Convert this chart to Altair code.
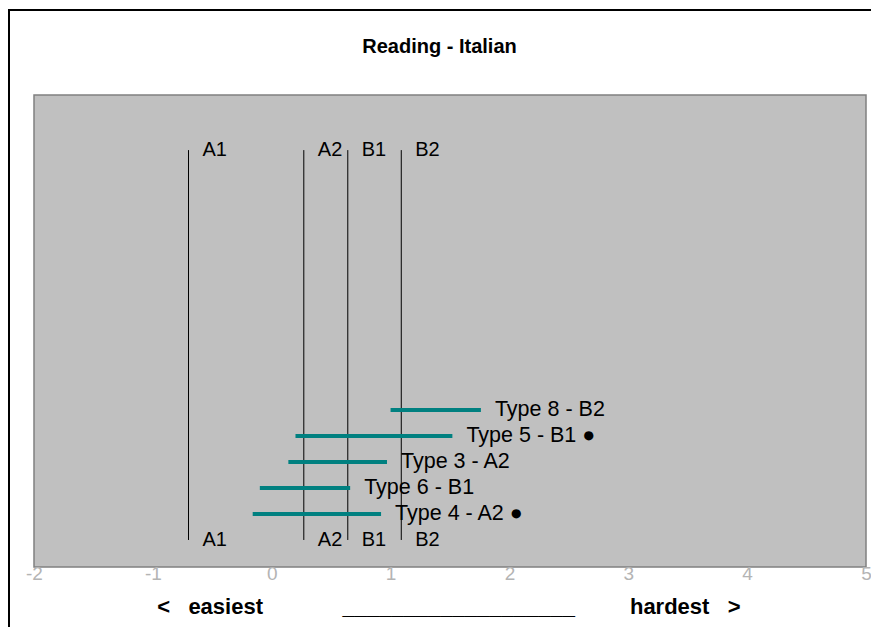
import altair as alt
import pandas as pd

# ---- data ----
levels = ["A1", "A2", "B1", "B2"]
level_pos = [-0.70, 0.27, 0.64, 1.09]
level_low = 0
level_high = 15

type_labels = ["Type 4 - A2 \u25CF", "Type 6 - B1", "Type 3 - A2", "Type 5 - B1 \u25CF", "Type 8 - B2"]
type_start = [-0.16, -0.10, 0.14, 0.20, 1.00]
type_end = [0.92, 0.66, 0.97, 1.52, 1.76]
type_row = [1, 2, 3, 4, 5]

x_ticks = [-2, -1, 0, 1, 2, 3, 4, 5]
title_text = "Reading - Italian"
NB = "\u00a0"
bottom_text = "<" + NB * 3 + "easiest" + NB * 13 + "_" * 19 + NB * 9 + "hardest" + NB * 3 + ">"

FONT = "Liberation Sans"
W, H = 832, 472

levels_df = pd.DataFrame({"level": levels, "pos": level_pos,
                          "lo": [level_low] * len(levels), "hi": [level_high] * len(levels)})
types_df = pd.DataFrame({"label": type_labels, "start": type_start, "end": type_end, "row": type_row})
one = pd.DataFrame({"k": [0]})

xscale = alt.Scale(domain=[-2, 5], nice=False, zero=False)
yscale = alt.Scale(domain=[-1.04, 17.12], nice=False, zero=False)
xaxis = alt.Axis(values=x_ticks, labelExpr="'' + datum.value", title=None, domain=False,
                 ticks=False, grid=False, labelFontSize=19, labelColor="#b4b4b4", labelFont=FONT,
                 labelFlush=False, labelPadding=-3)

lines = alt.Chart(levels_df).mark_rule(color="black", strokeWidth=1).encode(
    x=alt.X("pos:Q", scale=xscale, axis=xaxis),
    y=alt.Y("lo:Q", scale=yscale, axis=None),
    y2="hi:Q",
)
top_labels = alt.Chart(levels_df).mark_text(align="left", baseline="middle", dx=14,
                                            fontSize=20, font=FONT, color="black").encode(
    x="pos:Q", y="hi:Q", text="level:N")
bottom_labels = alt.Chart(levels_df).mark_text(align="left", baseline="middle", dx=14,
                                               fontSize=20, font=FONT, color="black").encode(
    x="pos:Q", y="lo:Q", text="level:N")

bars = alt.Chart(types_df).mark_rule(color="#008080", strokeWidth=4).encode(
    x="start:Q", x2="end:Q", y="row:Q")
bar_labels = alt.Chart(types_df).mark_text(align="left", baseline="middle", dx=14,
                                           fontSize=21.5, font=FONT, color="black").encode(
    x="end:Q", y="row:Q", text="label:N")

title = alt.Chart(one).mark_text(align="center", baseline="alphabetic", fontSize=20,
                                 fontWeight="bold", font=FONT, color="black").encode(
    x=alt.value(405.5), y=alt.value(-42), text=alt.value(title_text))
bottom = alt.Chart(one).mark_text(align="center", baseline="alphabetic", fontSize=22,
                                  fontWeight="bold", font=FONT, color="black").encode(
    x=alt.value(414.9), y=alt.value(519), text=alt.value(bottom_text))

frame_left = alt.Chart(one).mark_rule(color="black", strokeWidth=2).encode(
    x=alt.value(-25), y=alt.value(-86), y2=alt.value(H + 60))
frame_top = alt.Chart(one).mark_rule(color="black", strokeWidth=2).encode(
    x=alt.value(-26), x2=alt.value(W + 5), y=alt.value(-85))

chart = alt.layer(lines, top_labels, bottom_labels, bars, bar_labels, title, bottom,
                  frame_left, frame_top).properties(
    width=W, height=H,
    autosize=alt.AutoSizeParams(type="none"),
    padding={"left": 26, "top": 87, "right": 5, "bottom": 60},
    background="white",
).configure_view(fill="#c0c0c0", stroke="#808080", strokeWidth=1.5)

chart.save("out.html", embed_options={"renderer": "svg", "actions": False})
